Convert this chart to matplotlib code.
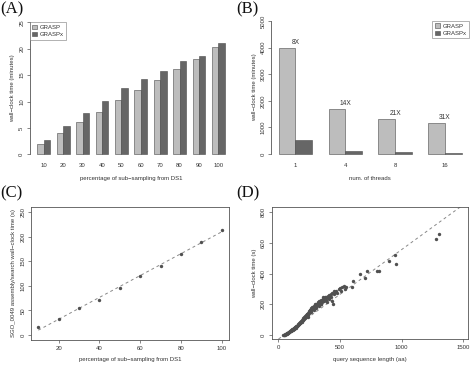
import numpy as np
import matplotlib
matplotlib.use("Agg")
import matplotlib.pyplot as plt
from matplotlib.patches import Patch

plt.rcParams['font.family'] = ['Liberation Sans', 'DejaVu Sans']
plt.rcParams['font.size'] = 4.3

# (A) sub-sampling runtime
pct = [10, 20, 30, 40, 50, 60, 70, 80, 90, 100]
grasp_a = [1.96, 4.0, 6.06, 8.1, 10.2, 12.2, 14.0, 16.1, 18.05, 20.3]
graspx_a = [2.7, 5.3, 7.9, 10.1, 12.5, 14.3, 15.8, 17.7, 18.7, 21.1]

# (B) threads
threads = ['1', '4', '8', '16']
grasp_b = [3972, 1692, 1316, 1153]
graspx_b = [526, 125, 63, 37]
speedup = ['8X', '14X', '21X', '31X']

# (C) SGO_0049 assembly/search time
pct_c = [10, 20, 30, 40, 50, 60, 70, 80, 90, 100]
time_c = [15.6, 33, 54, 72, 95, 120, 141, 164, 189, 214]

# (D) query length vs wall-clock time
qlen = [40, 45, 50, 55, 58, 62, 65, 68, 70, 72, 75, 78, 80, 82, 85, 88, 90, 92,
        95, 98, 100, 102, 105, 108, 110, 112, 115, 118, 120, 122, 125, 128, 130,
        132, 135, 138, 140, 142, 145, 148, 150, 152, 155, 158, 160, 162, 165,
        168, 170, 172, 175, 178, 180, 182, 185, 188, 190, 192, 195, 198, 200,
        202, 205, 208, 210, 212, 215, 218, 220, 222, 225, 228, 230, 232, 235,
        238, 240, 245, 248, 250, 252, 255, 258, 260, 262, 265, 268, 270, 275,
        278, 280, 285, 288, 290, 295, 300, 305, 310, 315, 320, 325, 330, 335,
        340, 345, 350, 355, 360, 370, 375, 380, 385, 390, 400, 405, 410, 420,
        425, 430, 435, 440, 450, 455, 460, 470, 480, 490, 500, 510, 520, 530,
        540, 550, 600, 605, 660, 700, 720, 800, 815, 900, 950, 955, 1280, 1300,
        240, 265, 290, 310, 330, 350, 365, 395, 415, 445]
wtime = [-2, 0, 2, 3, 5, 6, 8, 9, 10, 12, 13, 14, 16, 15, 18, 20, 19, 22,
         24, 25, 27, 26, 29, 31, 30, 34, 36, 35, 38, 40, 42, 41, 45,
         47, 48, 50, 52, 49, 55, 57, 58, 62, 60, 65, 66, 70, 68,
         72, 75, 78, 80, 76, 84, 88, 85, 90, 94, 88, 98, 100, 95,
         104, 108, 102, 112, 118, 110, 120, 125, 115, 130, 122, 135, 128, 140,
         132, 145, 138, 150, 142, 155, 160, 148, 165, 155, 170, 160, 175, 168,
         180, 172, 185, 190, 178, 195, 200, 185, 205, 195, 215, 200, 220, 210,
         225, 205, 230, 215, 235, 225, 240, 245, 230, 250, 255, 240, 260, 250,
         270, 245, 225, 275, 265, 285, 280, 290, 275, 300, 305, 290, 310, 320,
         300, 315, 310, 350, 395, 375, 420, 420, 415, 485, 525, 465, 625, 660,
         120, 150, 165, 175, 190, 200, 245, 215, 235, 200]
line_d = (0.585, -28.0)  # slope, intercept of dashed reference line

W, H = 472, 368
fig = plt.figure(figsize=(W / 100, H / 100), dpi=100)

TXT = '#333333'
LIGHT = '#bdbdbd'
DARK = '#666666'
EDGE = '#4a4a4a'


def px_axes(left, top, right, bottom):
    return fig.add_axes([left / W, 1 - bottom / H, (right - left) / W, (bottom - top) / H])


def rot_yticks(ax):
    for t in ax.get_yticklabels():
        t.set_rotation(90)
        t.set_va('center')


def style(ax):
    ax.tick_params(colors='#555555', labelcolor=TXT, width=0.5, length=2.5, pad=1.5)
    for s in ax.spines.values():
        s.set_color('#555555')
        s.set_linewidth(0.6)


def bar_panel(ax, labels, a, b, ylim_top, yticks):
    n = len(labels)
    left = np.arange(n) * 3 + 1
    ax.bar(left + 0.5, a, width=1, color=LIGHT, edgecolor=EDGE, linewidth=0.4)
    ax.bar(left + 1.5, b, width=1, color=DARK, edgecolor=EDGE, linewidth=0.4)
    span = left[-1] + 2 - 1
    ax.set_xlim(1 - 0.04 * span, left[-1] + 2 + 0.04 * span)
    ax.set_ylim(-0.04 * ylim_top, ylim_top * 1.04)
    ax.set_xticks(left + 1)
    ax.set_xticklabels(labels)
    ax.set_yticks(yticks)
    style(ax)
    for s in ['top', 'right', 'bottom']:
        ax.spines[s].set_visible(False)
    ax.spines['left'].set_bounds(0, ylim_top)
    ax.tick_params(axis='x', length=0, pad=2.5)
    rot_yticks(ax)


handles = [Patch(facecolor=LIGHT, edgecolor=EDGE, linewidth=0.4, label='GRASP'),
           Patch(facecolor=DARK, edgecolor=EDGE, linewidth=0.4, label='GRASPx')]
leg_kw = dict(fontsize=4.3, frameon=True, fancybox=False, borderaxespad=0,
              handlelength=0.8, handleheight=0.8, handletextpad=0.5,
              labelspacing=0.3, borderpad=0.4, labelcolor=TXT)

# (A)
axA = px_axes(29.8, 17, 232.4, 159.6)
bar_panel(axA, [str(p) for p in pct], grasp_a, graspx_a, 25, [0, 5, 10, 15, 20, 25])
axA.set_xlabel('percentage of sub\u2212sampling from DS1', color=TXT, labelpad=6)
axA.set_ylabel('wall\u2212clock time (minutes)', color=TXT, labelpad=3)
lg = axA.legend(handles=handles, loc='upper left', bbox_to_anchor=(0.0, 0.963), **leg_kw)
lg.get_frame().set_edgecolor('#777777')
lg.get_frame().set_linewidth(0.5)

# (B)
axB = px_axes(271.4, 15.7, 468.9, 159.3)
bar_panel(axB, threads, grasp_b, graspx_b, 5000, [0, 1000, 2000, 3000, 4000, 5000])
axB.set_xlabel('num. of threads', color=TXT, labelpad=6)
axB.set_ylabel('wall\u2212clock time (minutes)', color=TXT, labelpad=3)
for i, (v, s) in enumerate(zip(grasp_b, speedup)):
    axB.text(i * 3 + 2, v + 90, s, ha='center', va='bottom', fontsize=4.8, color=TXT)
lg = axB.legend(handles=handles, loc='upper right', bbox_to_anchor=(1.0, 0.963), **leg_kw)
lg.get_frame().set_edgecolor('#777777')
lg.get_frame().set_linewidth(0.5)

# (C)
axC = px_axes(31, 207, 229, 340)
axC.scatter(pct_c, time_c, s=6, color='#505050', linewidths=0, zorder=3)
k, c0 = np.polyfit(pct_c, time_c, 1)
xs = np.array([min(pct_c), max(pct_c)])
axC.plot(xs, k * xs + c0, ls=(0, (3, 3)), color='#888888', lw=0.7)
axC.set_xlim(6.4, 103.6)
axC.set_ylim(-10, 260)
axC.set_xticks([20, 40, 60, 80, 100])
axC.set_yticks([0, 50, 100, 150, 200, 250])
style(axC)
rot_yticks(axC)
axC.set_xlabel('percentage of sub\u2212sampling from DS1', color=TXT, labelpad=5)
axC.set_ylabel('SGO_0049 assembly/search wall\u2212clock time (s)', color=TXT, labelpad=3)

# (D)
axD = px_axes(271.7, 207, 468, 339)
axD.scatter(qlen, wtime, s=6, color='#505050', linewidths=0, zorder=3)
axD.axline((0, line_d[1]), slope=line_d[0], ls=(0, (3, 3)), color='#888888', lw=0.7)
axD.set_xlim(-52, 1538)
axD.set_ylim(-26, 835)
axD.set_xticks([0, 500, 1000, 1500])
axD.set_yticks([0, 200, 400, 600, 800])
style(axD)
rot_yticks(axD)
axD.set_xlabel('query sequence length (aa)', color=TXT, labelpad=5)
axD.set_ylabel('wall\u2212clock time (s)', color=TXT, labelpad=3)

# panel letters
for lab, x, y in [('(A)', 0, 1), ('(B)', 236, 1), ('(C)', 0, 185), ('(D)', 236, 185)]:
    fig.text(x / W, 1 - y / H, lab, ha='left', va='top', fontsize=12,
             family=['Liberation Serif', 'DejaVu Serif'], color='#111111')

fig.savefig('out.png', dpi=100)
